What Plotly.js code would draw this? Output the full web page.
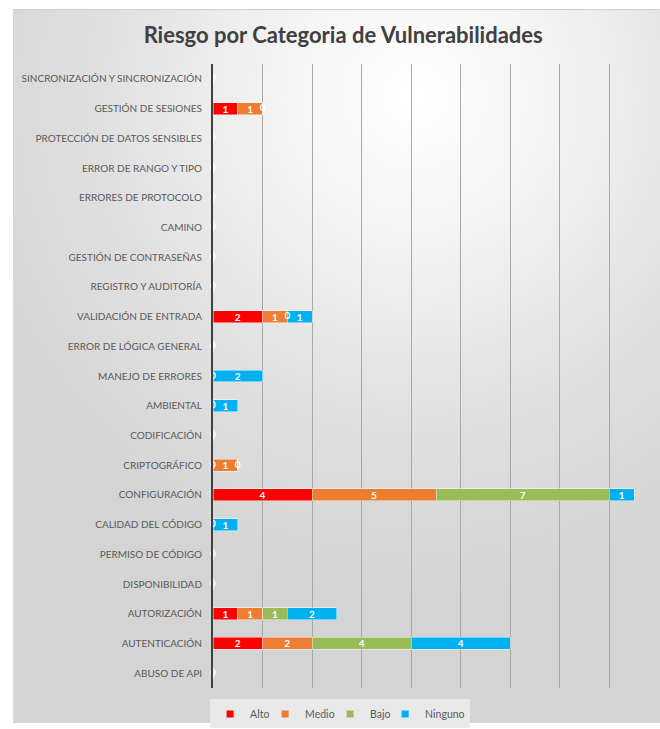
<!DOCTYPE html>
<html>
<head>
<meta charset="utf-8">
<script src="https://cdn.plot.ly/plotly-3.0.1.min.js"></script>
<style>
  html, body { margin: 0; padding: 0; background: #ffffff; }
  #bg { position: absolute; left: 13px; top: 9px; width: 647px; height: 714px;
        background: radial-gradient(ellipse 75% 70% at 62% 12%, #ffffff 0%, #f3f3f3 30%, #e0e0e0 65%, #d4d4d4 100%);
        border-top: 1px solid #cfcfcf; border-left: 1px solid #d8d8d8; box-sizing: border-box; }
  #chart { position: absolute; left: 0; top: 0; width: 660px; height: 729px; }
</style>
</head>
<body>
<div id="bg"></div>
<div id="chart"></div>
<script>
const categories = ["ABUSO DE API","AUTENTICACIÓN","AUTORIZACIÓN","DISPONIBILIDAD","PERMISO DE CÓDIGO","CALIDAD DEL CÓDIGO","CONFIGURACIÓN","CRIPTOGRÁFICO","CODIFICACIÓN","AMBIENTAL","MANEJO DE ERRORES","ERROR DE LÓGICA GENERAL","VALIDACIÓN DE ENTRADA","REGISTRO Y AUDITORÍA","GESTIÓN DE CONTRASEÑAS","CAMINO","ERRORES DE PROTOCOLO","ERROR DE RANGO Y TIPO","PROTECCIÓN DE DATOS SENSIBLES","GESTIÓN DE SESIONES","SINCRONIZACIÓN Y SINCRONIZACIÓN"];
const alto    = [0, 2, 1, 0, 0, 0, 4, 0, 0, 0, 0, 0, 2, 0, 0, 0, 0, 0, 0, 1, 0];
const medio   = [null, 2, 1, null, null, null, 5, 1, null, null, null, null, 1, null, null, null, null, null, null, 1, null];
const bajo    = [null, 4, 1, null, null, null, 7, 0, null, null, null, null, 0, null, null, null, null, null, null, 0, null];
const ninguno = [null, 4, 2, null, null, 1, 1, null, null, 1, 2, null, 1, null, null, null, null, null, null, null, null];
const seriesNames = ["Alto", "Medio", "Bajo", "Ninguno"];
const seriesColors = ["#ff0000", "#ed7d31", "#9bbb59", "#00b0f0"];
const seriesValues = [alto, medio, bajo, ninguno];
const legendWidths = [10, 20, 10, 0];

const FONT = "Lato, 'Open Sans', sans-serif";
const labelFont = { family: FONT, size: 10, color: "#ffffff", weight: "bold" };

const traces = seriesValues.map((vals, i) => ({
  type: "bar",
  orientation: "h",
  name: seriesNames[i],
  y: categories,
  x: vals,
  marker: { color: seriesColors[i], line: { color: "rgba(255,255,255,0.55)", width: 0.8 } },
  text: vals.map(v => (v ? String(v) : "")),
  textposition: "inside",
  insidetextanchor: "middle",
  textangle: 0,
  constraintext: "none",
  textfont: labelFont,
  showlegend: false,
  hoverinfo: "x+y+name"
}));

// zero-value labels placed at the cumulative stack position
const zx = [], zy = [], seen = {};
categories.forEach((c, ci) => {
  let cum = 0;
  seriesValues.forEach(vals => {
    const v = vals[ci];
    if (v === 0) {
      const key = c + "|" + cum;
      if (!seen[key]) { seen[key] = 1; zx.push(cum); zy.push(c); }
    }
    cum += v || 0;
  });
});
traces.push({
  type: "scatter", mode: "text", x: zx, y: zy,
  text: zx.map(() => "0"), textposition: "middle center",
  textfont: labelFont, showlegend: false, hoverinfo: "skip", cliponaxis: false
});

// legend entries (small square keys like the original)
seriesNames.forEach((n, i) => {
  const t = {
    type: "scatter", mode: "markers", name: n, x: [null], y: [null],
    marker: { symbol: "square", size: 7, color: seriesColors[i] },
    showlegend: true, hoverinfo: "skip"
  };
  if (legendWidths[i]) t.legendwidth = legendWidths[i];
  traces.push(t);
});

const layout = {
  width: 660, height: 729,
  paper_bgcolor: "rgba(0,0,0,0)",
  plot_bgcolor: "rgba(0,0,0,0)",
  margin: { l: 213, r: 1, t: 64, b: 39 },
  barmode: "stack",
  bargap: 0.6,
  title: {
    text: "Riesgo por Categoria de Vulnerabilidades",
    x: 0.52, xref: "container", xanchor: "center",
    y: 0.952, yref: "container", yanchor: "middle",
    font: { family: FONT, size: 22, color: "#404040", weight: "bold" }
  },
  xaxis: {
    range: [0, 18], dtick: 2, showticklabels: false,
    showgrid: true, gridcolor: "#a9a9a9", gridwidth: 1,
    zeroline: false, showline: false, fixedrange: true
  },
  yaxis: {
    type: "category", categoryorder: "array", categoryarray: categories,
    range: [-0.5, categories.length - 0.5],
    showline: true, linecolor: "#404040", linewidth: 2,
    ticks: "", ticklabelstandoff: 7,
    tickfont: { family: FONT, size: 10, color: "#595959" },
    showgrid: false, zeroline: false, fixedrange: true
  },
  legend: {
    orientation: "h", x: 0.285, xanchor: "center", y: -0.0415, yanchor: "middle",
    bgcolor: "#e9e9e9", font: { family: FONT, size: 10.5, color: "#595959" },
    itemwidth: 30, traceorder: "normal", tracegroupgap: 0
  },
  showlegend: true
};

Plotly.newPlot("chart", traces, layout, { displayModeBar: false, staticPlot: true });
</script>
</body>
</html>
